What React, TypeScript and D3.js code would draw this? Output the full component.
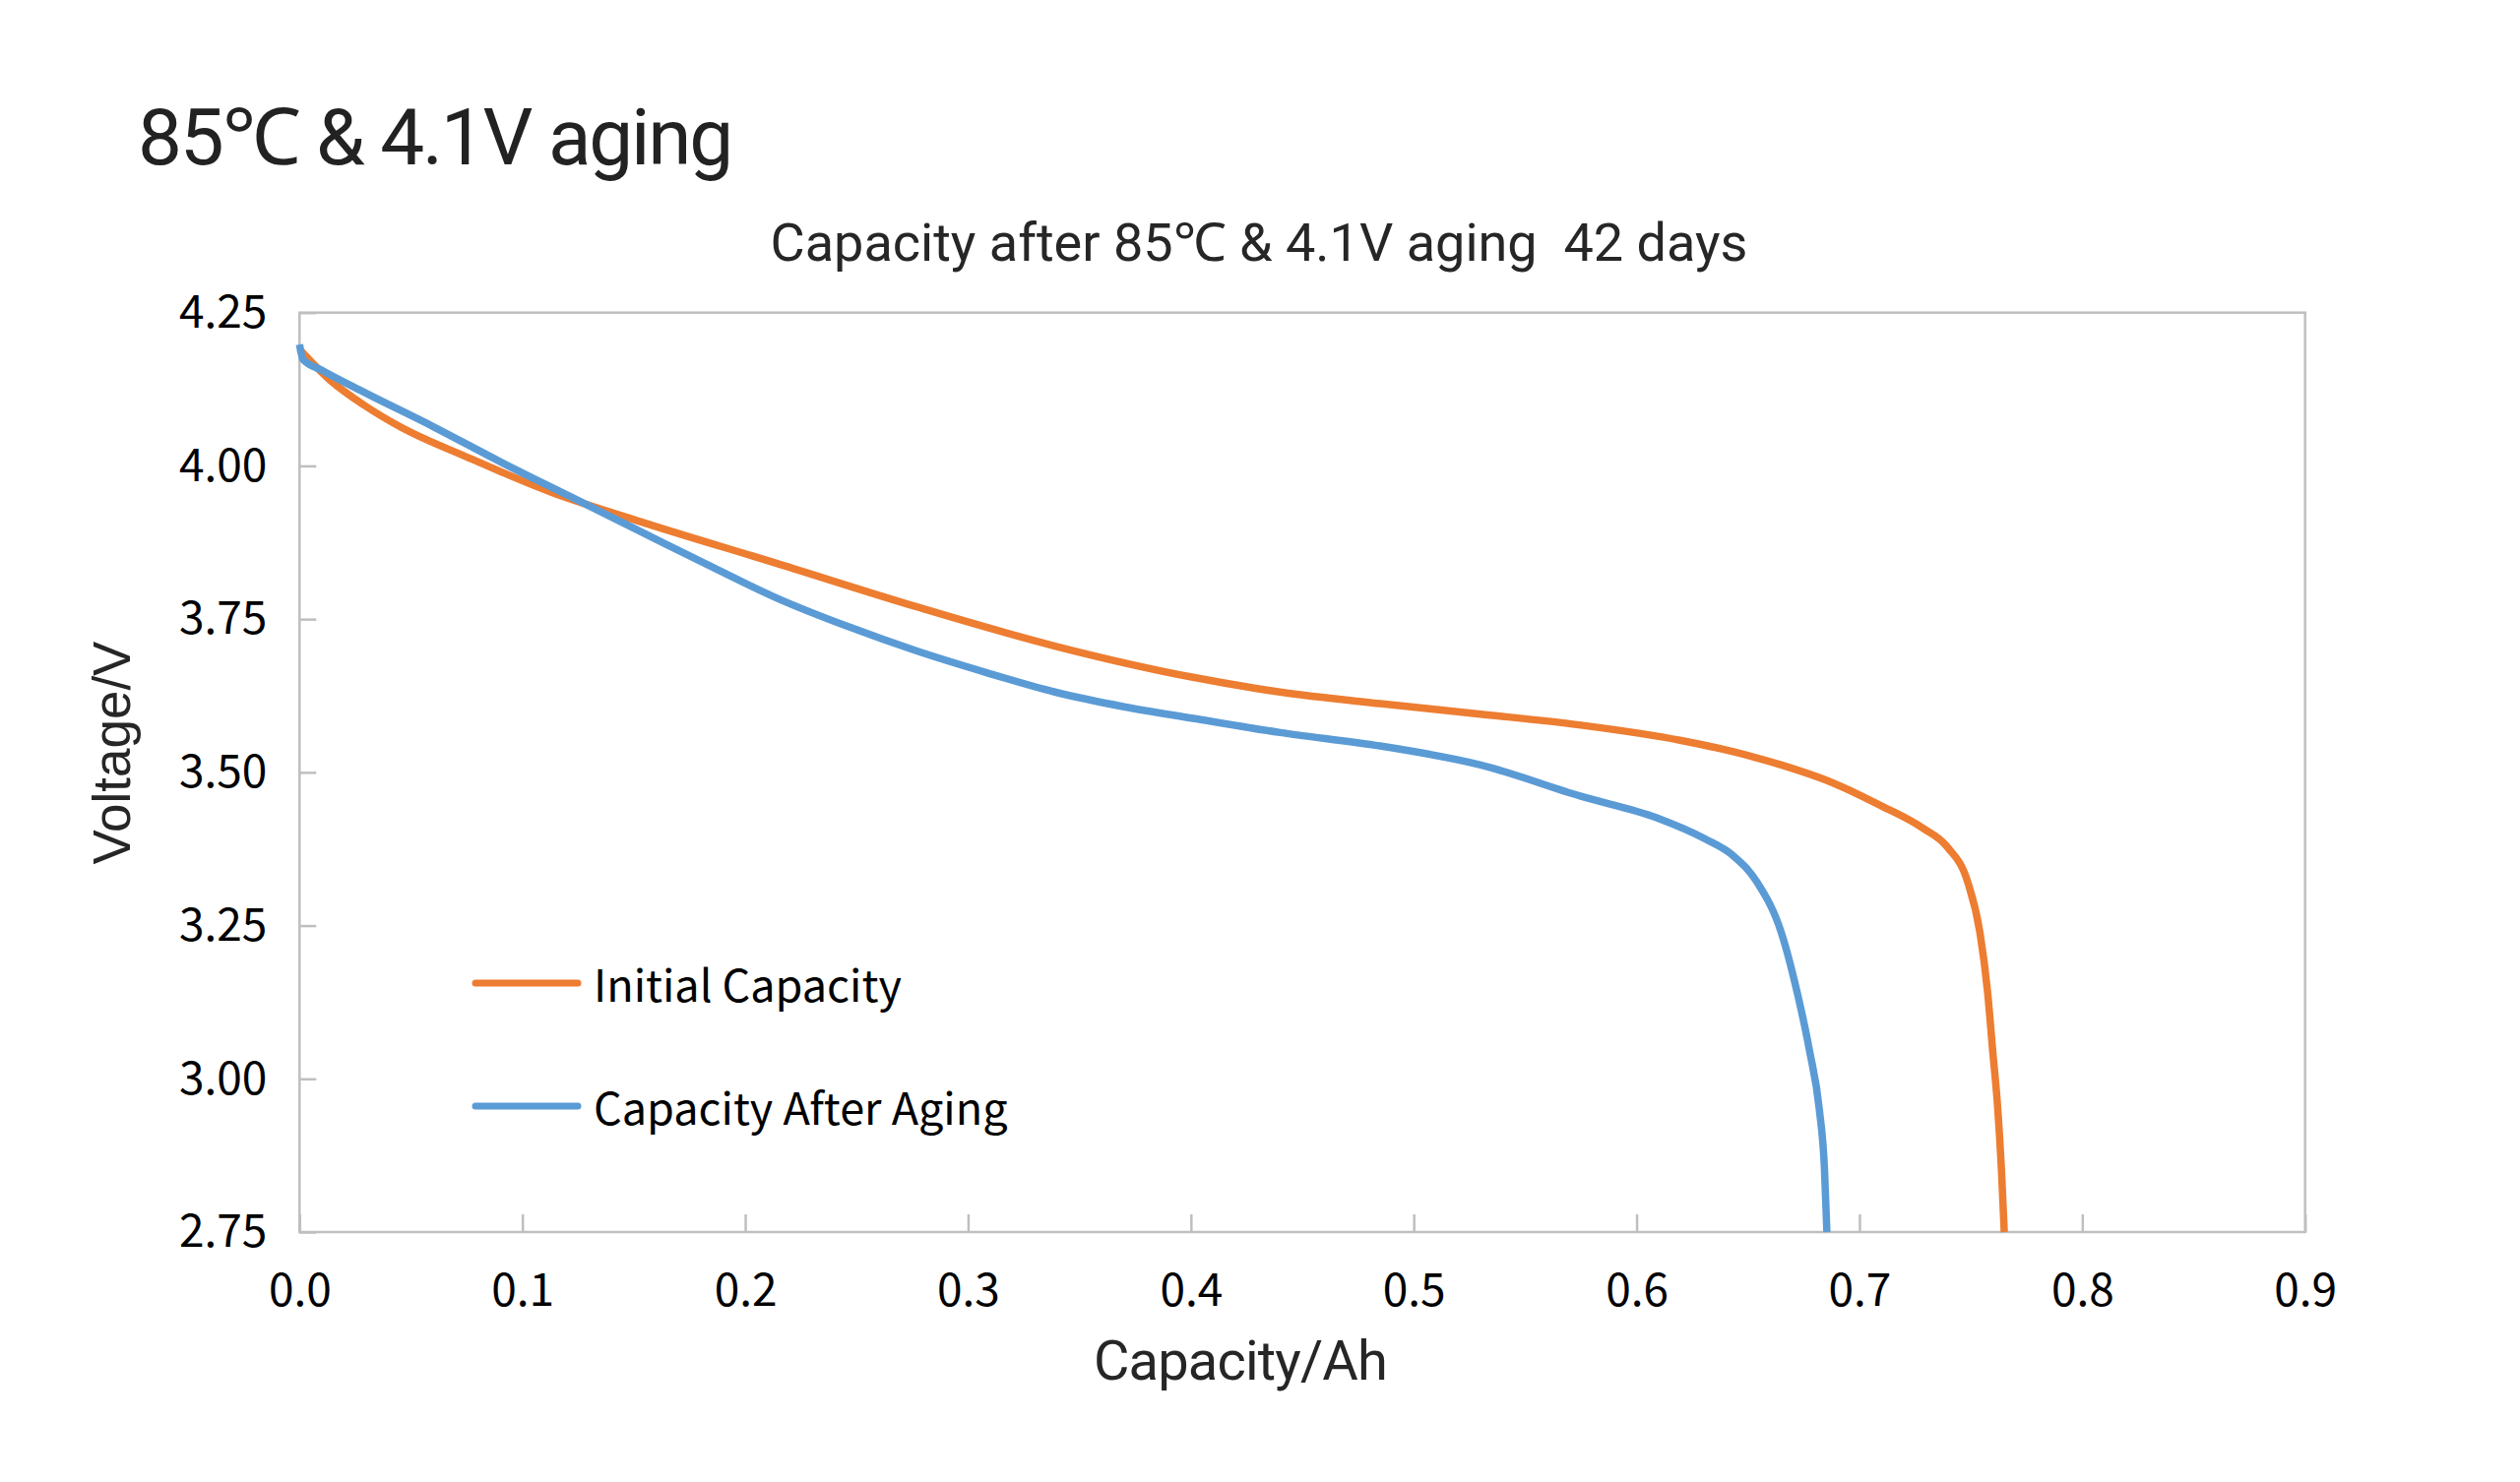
import { useEffect, useRef } from 'react'
import * as d3 from 'd3'

// Discharge curves (capacity in Ah, voltage in V)
const initialCapacity = [0, 0.014, 0.029, 0.045, 0.076, 0.113, 0.153, 0.215, 0.277, 0.339, 0.401, 0.44, 0.485, 0.53, 0.575, 0.62, 0.643, 0.665, 0.688, 0.71, 0.728, 0.7395, 0.7486, 0.7541, 0.7575, 0.7598, 0.7621, 0.7637, 0.765]
const initialVoltage = [4.19, 4.139, 4.099, 4.064, 4.013, 3.957, 3.909, 3.84, 3.77, 3.706, 3.655, 3.631, 3.612, 3.595, 3.577, 3.552, 3.534, 3.512, 3.483, 3.445, 3.41, 3.378, 3.321, 3.238, 3.142, 3.046, 2.95, 2.854, 2.75]

const agedCapacity = [0, 0.0015, 0.01, 0.029, 0.06, 0.091, 0.122, 0.153, 0.184, 0.215, 0.246, 0.277, 0.308, 0.339, 0.37, 0.401, 0.44, 0.485, 0.53, 0.575, 0.609, 0.631, 0.643, 0.654, 0.665, 0.672, 0.6776, 0.682, 0.6843, 0.6854]
const agedVoltage = [4.198, 4.174, 4.156, 4.12, 4.064, 4.005, 3.949, 3.893, 3.837, 3.783, 3.738, 3.698, 3.663, 3.631, 3.607, 3.588, 3.565, 3.543, 3.512, 3.461, 3.426, 3.391, 3.365, 3.321, 3.238, 3.142, 3.046, 2.95, 2.854, 2.75]

const seriesNames = ['Initial Capacity', 'Capacity After Aging']
const seriesColors = ['#ED7D31', '#5B9BD5']

const xTicks = [0, 0.1, 0.2, 0.3, 0.4, 0.5, 0.6, 0.7, 0.8, 0.9]
const yTicks = [2.75, 3.0, 3.25, 3.5, 3.75, 4.0, 4.25]

const pageTitle = '85℃ & 4.1V aging'
const chartTitle = 'Capacity after 85℃ & 4.1V aging  42 days'
const xLabel = 'Capacity/Ah'
const yLabel = 'Voltage/V'

export default function App() {
  const svgRef = useRef<SVGSVGElement>(null)

  useEffect(() => {
    if (!svgRef.current) return
    const width = 2560
    const height = 1506
    const left = 304.3
    const right = 2341.7
    const top = 317.7
    const bottom = 1252
    const axisColor = '#bfbfbf'
    const tickFont = '"Noto Sans CJK SC", "Noto Sans", sans-serif'

    const svg = d3.select(svgRef.current)
    svg.selectAll('*').remove()
    svg.attr('width', width).attr('height', height)

    const x = d3.scaleLinear().domain([0, 0.9]).range([left, right])
    const y = d3.scaleLinear().domain([2.75, 4.25]).range([bottom, top])

    svg.append('rect').attr('width', width).attr('height', height).attr('fill', '#fff')

    // page heading + chart title
    svg.append('text')
      .attr('x', 140).attr('y', 167)
      .attr('font-family', 'Roboto, sans-serif')
      .attr('font-size', 80)
      .attr('letter-spacing', -2.2)
      .attr('fill', '#222')
      .text(pageTitle)

    svg.append('text')
      .attr('x', 1279).attr('y', 265)
      .attr('text-anchor', 'middle')
      .attr('font-family', 'Roboto, sans-serif')
      .attr('font-size', 54)
      .attr('fill', '#262626')
      .style('white-space', 'pre')
      .text(chartTitle)

    // axes (ticks point inward)
    const gx = svg.append('g')
      .attr('transform', `translate(0,${bottom})`)
      .call(d3.axisBottom(x).tickValues(xTicks).tickSize(-18).tickPadding(42).tickFormat((d) => (+d).toFixed(1)))
    const gy = svg.append('g')
      .attr('transform', `translate(${left},0)`)
      .call(d3.axisLeft(y).tickValues(yTicks).tickSize(-17).tickPadding(33).tickFormat((d) => (+d).toFixed(2)))

    for (const g of [gx, gy]) {
      g.select('.domain').remove()
      g.selectAll('.tick line').attr('stroke', axisColor).attr('stroke-width', 2.5)
      g.selectAll('.tick text')
        .attr('fill', '#000')
        .attr('font-size', 46)
        .attr('font-family', tickFont)
    }

    svg.append('rect')
      .attr('x', left).attr('y', top)
      .attr('width', right - left).attr('height', bottom - top)
      .attr('fill', 'none')
      .attr('stroke', axisColor)
      .attr('stroke-width', 2.5)

    // curves
    const series = [
      initialCapacity.map((c, i) => [c, initialVoltage[i]] as [number, number]),
      agedCapacity.map((c, i) => [c, agedVoltage[i]] as [number, number]),
    ]
    const line = d3.line<[number, number]>()
      .x((d) => x(d[0]))
      .y((d) => y(d[1]))
      .curve(d3.curveMonotoneX)

    series.forEach((pts, i) => {
      svg.append('path')
        .datum(pts)
        .attr('d', line)
        .attr('fill', 'none')
        .attr('stroke', seriesColors[i])
        .attr('stroke-width', 7.5)
        .attr('stroke-linejoin', 'round')
    })

    // legend
    seriesNames.forEach((name, i) => {
      const ly = 999 + i * 125
      svg.append('line')
        .attr('x1', 483).attr('x2', 587)
        .attr('y1', ly).attr('y2', ly)
        .attr('stroke', seriesColors[i])
        .attr('stroke-width', 7)
        .attr('stroke-linecap', 'round')
      svg.append('text')
        .attr('x', 603).attr('y', ly + 19)
        .attr('font-family', tickFont)
        .attr('font-size', 45)
        .attr('fill', '#000')
        .text(name)
    })

    // axis labels
    svg.append('text')
      .attr('x', 1260).attr('y', 1402)
      .attr('text-anchor', 'middle')
      .attr('font-family', 'Roboto, sans-serif')
      .attr('font-size', 56)
      .attr('letter-spacing', -0.8)
      .attr('fill', '#262626')
      .text(xLabel)

    svg.append('text')
      .attr('transform', 'translate(132,765) rotate(-90)')
      .attr('text-anchor', 'middle')
      .attr('font-family', '"Liberation Sans", Arial, sans-serif')
      .attr('font-size', 53)
      .attr('fill', '#262626')
      .text(yLabel)
  }, [])

  return <svg ref={svgRef} style={{ position: 'absolute', left: 0, top: 0, display: 'block' }} />
}
